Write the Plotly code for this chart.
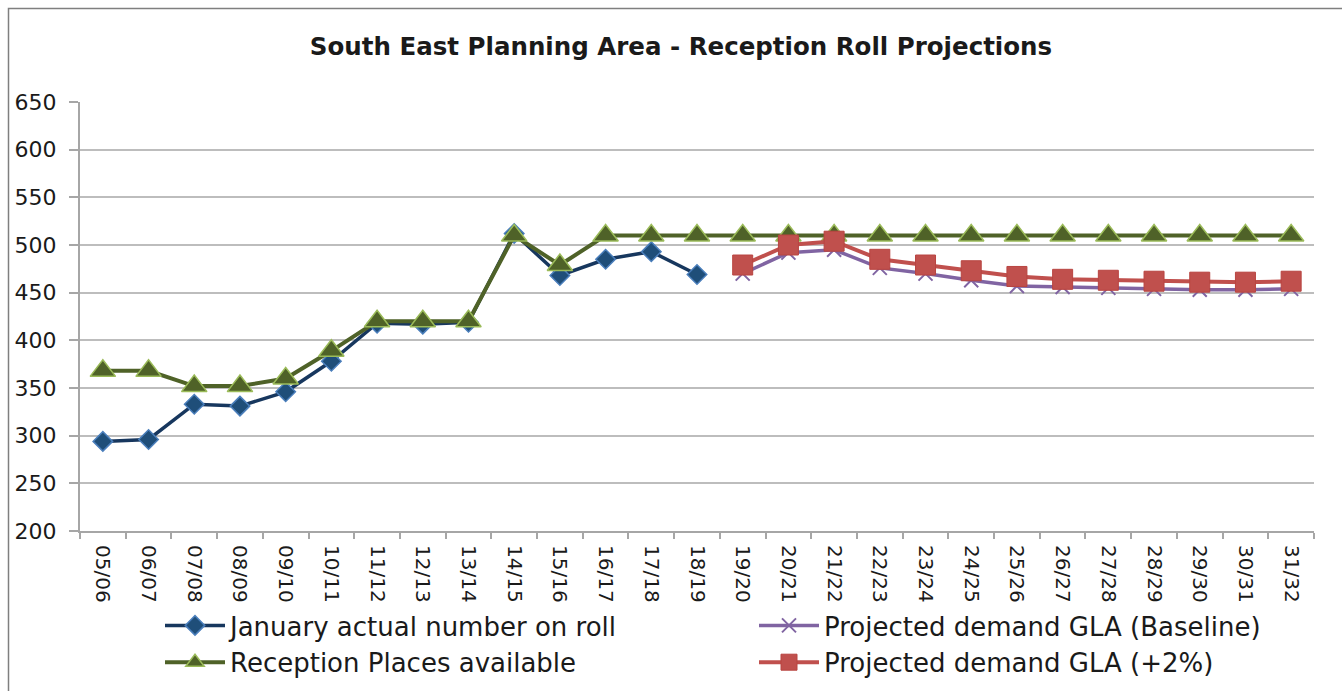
import plotly.graph_objects as go

years = ["05/06", "06/07", "07/08", "08/09", "09/10", "10/11", "11/12", "12/13", "13/14",
         "14/15", "15/16", "16/17", "17/18", "18/19", "19/20", "20/21", "21/22", "22/23",
         "23/24", "24/25", "25/26", "26/27", "27/28", "28/29", "29/30", "30/31", "31/32"]

actual_roll = [294, 296, 333, 331, 346, 378, 418, 417, 419, 512, 468, 485, 493, 469,
               None, None, None, None, None, None, None, None, None, None, None, None, None]

places = [368, 368, 352, 352, 360, 389, 420, 420, 420, 510, 479, 510, 510, 510,
          510, 510, 510, 510, 510, 510, 510, 510, 510, 510, 510, 510, 510]

gla_baseline = [None] * 14 + [470, 492, 495, 476, 470, 463, 457, 456, 455, 454, 453, 453, 454]

gla_plus2 = [None] * 14 + [479, 500, 504, 485, 479, 473, 467, 464, 463, 462, 461, 461, 462]

y_ticks = [200, 250, 300, 350, 400, 450, 500, 550, 600, 650]

W, H = 1342, 691
L, R, T, B = 80, 1314, 102, 531

FONT = "DejaVu Sans"

fig = go.Figure()

fig.add_trace(go.Scatter(
    x=years, y=actual_roll, name="January actual number on roll", mode="lines+markers",
    line=dict(color="#17375E", width=3.5),
    marker=dict(symbol="diamond", size=15, color="#1F4E79", line=dict(color="#4A7EBB", width=1.5)),
    legend="legend",
))
fig.add_trace(go.Scatter(
    x=years, y=places, name="Reception Places available", mode="lines+markers",
    line=dict(color="#4F6228", width=4),
    marker=dict(symbol="triangle-up", size=22, color="#4F6228", line=dict(color="#9BBB59", width=1.5)),
    legend="legend",
))
fig.add_trace(go.Scatter(
    x=years, y=gla_baseline, name="Projected demand GLA (Baseline)", mode="lines+markers",
    line=dict(color="#8064A2", width=3.5),
    marker=dict(symbol="x-thin", size=14, color="#8064A2", line=dict(color="#8064A2", width=2)),
    legend="legend2",
))
fig.add_trace(go.Scatter(
    x=years, y=gla_plus2, name="Projected demand GLA (+2%)", mode="lines+markers",
    line=dict(color="#C0504D", width=4),
    marker=dict(symbol="square", size=20, color="#C0504D", line=dict(color="#B84440", width=1)),
    legend="legend2",
))

def px_x(p):
    return (p - L) / (R - L)

def px_y(p):
    return (B - p) / (B - T)

legend_common = dict(
    orientation="v", xref="container", yref="container", xanchor="left", yanchor="top",
    font=dict(family=FONT, size=26, color="#1A1A1A"), bgcolor="rgba(0,0,0,0)",
    tracegroupgap=0, itemwidth=60,
)

fig.update_layout(
    width=W, height=H,
    margin=dict(l=L, r=W - R, t=T, b=H - B, autoexpand=False),
    paper_bgcolor="white", plot_bgcolor="white",
    font=dict(family=FONT, color="#1A1A1A"),
    title=dict(
        text="<b>South East Planning Area - Reception Roll Projections</b>",
        xref="container", yref="container", x=681 / W, y=1 - 46 / H,
        xanchor="center", yanchor="middle",
        font=dict(family=FONT, size=24.5, color="#1A1A1A"),
    ),
    xaxis=dict(
        type="category", categoryorder="array", categoryarray=years,
        range=[-0.5, len(years) - 0.5],
        tickangle=90, tickfont=dict(family=FONT, size=20, color="#1A1A1A"),
        ticks="outside", tickson="boundaries", ticklen=6, tickcolor="#A6A6A6", tickwidth=1.5,
        showline=True, linecolor="#A6A6A6", linewidth=2,
        showgrid=False, zeroline=False, ticklabelstandoff=8,
    ),
    yaxis=dict(
        range=[200, 650], tickvals=y_ticks,
        tickfont=dict(family=FONT, size=22, color="#1A1A1A"),
        ticks="outside", ticklen=9, tickcolor="#A6A6A6", tickwidth=1.5,
        showline=True, linecolor="#A6A6A6", linewidth=2,
        showgrid=True, gridcolor="#BDBDBD", gridwidth=2, zeroline=False,
        ticklabelstandoff=8,
    ),
    legend=dict(x=160 / W, y=1 - 602 / H, **legend_common),
    legend2=dict(x=754 / W, y=1 - 602 / H, **legend_common),
    showlegend=True,
    shapes=[dict(
        type="rect", xref="paper", yref="paper",
        x0=px_x(8.5), x1=px_x(1345), y0=px_y(700), y1=px_y(8.5),
        line=dict(color="#7F7F7F", width=1.5), fillcolor="rgba(0,0,0,0)", layer="above",
    )],
)

fig.write_html("out.html", config={"displayModeBar": False},
               post_script="document.body.style.margin='0';document.body.style.overflow='hidden';")
